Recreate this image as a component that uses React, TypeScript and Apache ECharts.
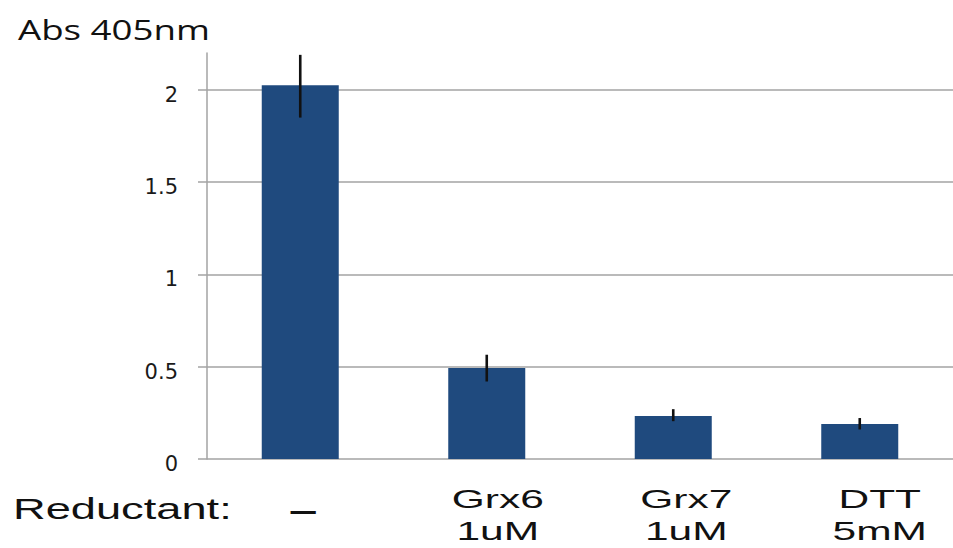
import { useEffect, useRef } from 'react';
import * as echarts from 'echarts';

const categories = ['–', 'Grx6\n1uM', 'Grx7\n1uM', 'DTT\n5mM'];
const values = [2.025, 0.493, 0.233, 0.19];
const errLow = [1.85, 0.42, 0.205, 0.16];
const errHigh = [2.19, 0.565, 0.27, 0.222];
const yTicks = [0, 0.5, 1, 1.5, 2];
const yMax = 2.2;
const yTitle = 'Abs 405nm';
const xTitle = 'Reductant:';

const BAR = '#1f4a7e';
const GRID = '#a3a3a3';
const LABEL_SHIFT = [3, 11, 13, 20];

export default function App() {
  const ref = useRef<HTMLDivElement>(null);
  useEffect(() => {
    if (!ref.current) return;
    const chart = echarts.init(ref.current, null, { renderer: 'svg' });
    const option: any = {
      animation: false,
      backgroundColor: '#ffffff',
      grid: { left: 207, right: -10, top: 53, bottom: 89, containLabel: false },
      graphic: [
        {
          type: 'text',
          x: 18,
          y: 29,
          scaleX: 1.31,
          style: {
            text: yTitle,
            font: '28px "Open Sans"',
            fill: '#111',
            align: 'left',
            verticalAlign: 'middle',
          },
        },
        {
          type: 'text',
          x: 13,
          y: 509,
          scaleX: 1.56,
          style: {
            text: xTitle,
            font: '29px "Liberation Sans"',
            fill: '#111',
            align: 'left',
            verticalAlign: 'middle',
          },
        },
      ],
      xAxis: {
        type: 'category',
        data: categories,
        axisLine: { show: false },
        axisTick: { show: false },
        axisLabel: { show: false },
        splitLine: { show: false },
      },
      yAxis: {
        type: 'value',
        min: 0,
        max: yMax,
        interval: 0.5,
        axisLine: { show: true, lineStyle: { color: GRID, width: 1.5 } },
        axisTick: { show: true, length: 9, lineStyle: { color: GRID, width: 1.5 }, customValues: yTicks },
        axisLabel: {
          customValues: yTicks,
          margin: 29,
          fontFamily: 'DejaVu Sans',
          fontSize: 21,
          color: '#1a1a1a',
          verticalAlign: 'top',
          lineHeight: 10,
          formatter: (v: number) => String(v),
        },
        splitLine: { show: true, lineStyle: { color: GRID, width: 1.5 } },
      },
      series: [
        {
          type: 'bar',
          data: values,
          barWidth: 77,
          itemStyle: { color: BAR },
        },
        {
          type: 'custom',
          data: categories.map((_, i) => [i, errLow[i], errHigh[i]]),
          encode: { x: 0, y: [1, 2] },
          z: 5,
          renderItem: (params: any, api: any) => {
            const lo = api.coord([api.value(0), api.value(1)]);
            const hi = api.coord([api.value(0), api.value(2)]);
            return {
              type: 'line',
              shape: { x1: lo[0], y1: lo[1], x2: hi[0], y2: hi[1] },
              style: { stroke: '#111', lineWidth: 2.6 },
            };
          },
        },
        {
          type: 'custom',
          data: categories.map((_, i) => [i, 0]),
          encode: { x: 0, y: 1 },
          clip: false,
          silent: true,
          z: 6,
          renderItem: (params: any, api: any) => {
            const p = api.coord([api.value(0), 0]);
            const shift = LABEL_SHIFT[params.dataIndex] || 0;
            const lines = categories[params.dataIndex].split('\n');
            if (lines.length === 1) {
              return {
                type: 'text',
                x: p[0] + shift,
                y: p[1] + 52,
                scaleX: 1.7,
                style: {
                  text: lines[0],
                  font: 'bold 30px "Liberation Sans"',
                  fill: '#111',
                  align: 'center',
                  verticalAlign: 'middle',
                },
              };
            }
            return {
              type: 'group',
              children: lines.map((t, k) => ({
                type: 'text',
                x: p[0] + shift,
                y: p[1] + 40 + k * 32,
                scaleX: 1.7,
                style: {
                  text: t,
                  font: '25px "Liberation Sans"',
                  fill: '#111',
                  align: 'center',
                  verticalAlign: 'middle',
                },
              })),
            };
          },
        },
      ],
    };
    chart.setOption(option);
    return () => chart.dispose();
  }, []);
  return (
    <div
      ref={ref}
      style={{ position: 'fixed', left: 0, top: 0, width: 953, height: 548, background: '#fff' }}
    />
  );
}
